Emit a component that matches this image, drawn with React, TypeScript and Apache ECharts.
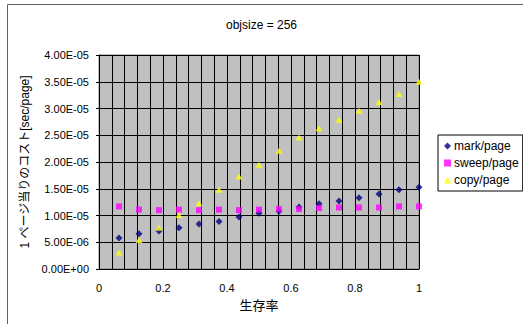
import React, { useEffect, useRef } from "react";
import * as echarts from "echarts";

// survival rate (生存率), 1/16 .. 16/16
const survival = [
  0.0625, 0.125, 0.1875, 0.25, 0.3125, 0.375, 0.4375, 0.5,
  0.5625, 0.625, 0.6875, 0.75, 0.8125, 0.875, 0.9375, 1.0,
];

// per-page cost in seconds
const markPerPage = [
  5.8e-6, 6.6e-6, 7.1e-6, 7.7e-6, 8.4e-6, 8.9e-6, 9.7e-6, 1.04e-5,
  1.08e-5, 1.16e-5, 1.22e-5, 1.27e-5, 1.33e-5, 1.4e-5, 1.48e-5, 1.53e-5,
];
const sweepPerPage = [
  1.17e-5, 1.11e-5, 1.1e-5, 1.11e-5, 1.1e-5, 1.11e-5, 1.1e-5, 1.11e-5,
  1.12e-5, 1.12e-5, 1.14e-5, 1.15e-5, 1.15e-5, 1.15e-5, 1.17e-5, 1.17e-5,
];
const copyPerPage = [
  3.1e-6, 5.4e-6, 7.7e-6, 1.01e-5, 1.23e-5, 1.48e-5, 1.73e-5, 1.95e-5,
  2.21e-5, 2.46e-5, 2.63e-5, 2.79e-5, 2.96e-5, 3.12e-5, 3.27e-5, 3.5e-5,
];

const seriesNames = ["mark/page", "sweep/page", "copy/page"];

const LATIN = "'Liberation Sans', Arial, 'Noto Sans CJK JP', sans-serif";
const CJK = "'Liberation Sans', 'Noto Sans CJK JP', sans-serif";

function sci(v: number): string {
  if (Math.abs(v) < 1e-12) return "0.00E+00";
  const [m, e] = v.toExponential(2).split("e");
  const n = parseInt(e, 10);
  return m + "E" + (n < 0 ? "-" : "+") + String(Math.abs(n)).padStart(2, "0");
}

const pairs = (ys: number[]) => survival.map((x, i) => [x, ys[i]]);

export default function App() {
  const ref = useRef<HTMLDivElement>(null);

  useEffect(() => {
    document.body.style.margin = "0";
    if (!ref.current) return;
    const chart = echarts.init(ref.current, null, { renderer: "svg" });
    chart.setOption({
      animation: false,
      backgroundColor: "#ffffff",
      title: {
        text: "objsize = 256",
        left: "center",
        top: 14,
        textStyle: { fontFamily: LATIN, fontSize: 12, fontWeight: "normal", color: "#000" },
      },
      graphic: [
        {
          type: "rect",
          shape: { x: 7.5, y: 4.5, width: 700, height: 500 },
          style: { fill: "none", stroke: "#606060", lineWidth: 1 },
          silent: true,
        },
      ],
      legend: {
        orient: "vertical",
        left: 438,
        top: 135,
        width: 84,
        padding: [5, 4, 5, 6],
        itemGap: 5,
        itemWidth: 7,
        itemHeight: 7,
        backgroundColor: "#fff",
        borderColor: "#000",
        borderWidth: 1,
        textStyle: { fontFamily: LATIN, fontSize: 12, color: "#000", padding: [0, 0, 0, -2] },
        data: seriesNames,
      },
      grid: {
        left: 99,
        right: 104,
        top: 55,
        bottom: 55,
        show: true,
        backgroundColor: "#c0c0c0",
        borderColor: "#808080",
        borderWidth: 1,
      },
      xAxis: {
        type: "value",
        min: 0,
        max: 1,
        interval: 0.2,
        name: "生存率",
        nameLocation: "middle",
        nameGap: 30,
        nameTextStyle: { fontFamily: CJK, fontSize: 13, color: "#000" },
        axisLine: { show: true, onZero: false, lineStyle: { color: "#000", width: 1 } },
        axisTick: { show: false },
        axisLabel: {
          fontFamily: LATIN,
          fontSize: 11,
          color: "#000",
          margin: 13,
          formatter: (v: number) => String(+v.toFixed(1)),
        },
        splitLine: { show: true, lineStyle: { color: "#000", width: 1 } },
        minorTick: { show: false, splitNumber: 5 },
        minorSplitLine: { show: true, lineStyle: { color: "#000", width: 1 } },
      },
      yAxis: {
        type: "value",
        min: 0,
        max: 4e-5,
        interval: 5e-6,
        name: "1 ページ当りのコスト[sec/page]",
        nameLocation: "middle",
        nameGap: 66,
        nameRotate: 90,
        nameTextStyle: { fontFamily: CJK, fontSize: 12, color: "#000" },
        axisLine: { show: true, lineStyle: { color: "#000", width: 1 } },
        axisTick: { show: true, length: 3, lineStyle: { color: "#000" } },
        axisLabel: {
          fontFamily: LATIN,
          fontSize: 11,
          color: "#000",
          margin: 10,
          formatter: (v: number) => sci(v),
        },
        splitLine: { show: true, lineStyle: { color: "#000", width: 1 } },
      },
      series: [
        {
          name: seriesNames[0],
          type: "scatter",
          symbol: "diamond",
          symbolSize: 7,
          itemStyle: { color: "#000080" },
          data: pairs(markPerPage),
          z: 3,
        },
        {
          name: seriesNames[1],
          type: "scatter",
          symbol: "rect",
          symbolSize: 6,
          itemStyle: { color: "#ff00ff" },
          data: pairs(sweepPerPage),
          z: 4,
        },
        {
          name: seriesNames[2],
          type: "scatter",
          symbol: "triangle",
          symbolSize: [7, 6],
          itemStyle: { color: "#ffff00" },
          data: pairs(copyPerPage),
          z: 5,
        },
      ],
    });
    return () => chart.dispose();
  }, []);

  return <div ref={ref} style={{ width: 523, height: 324 }} />;
}
